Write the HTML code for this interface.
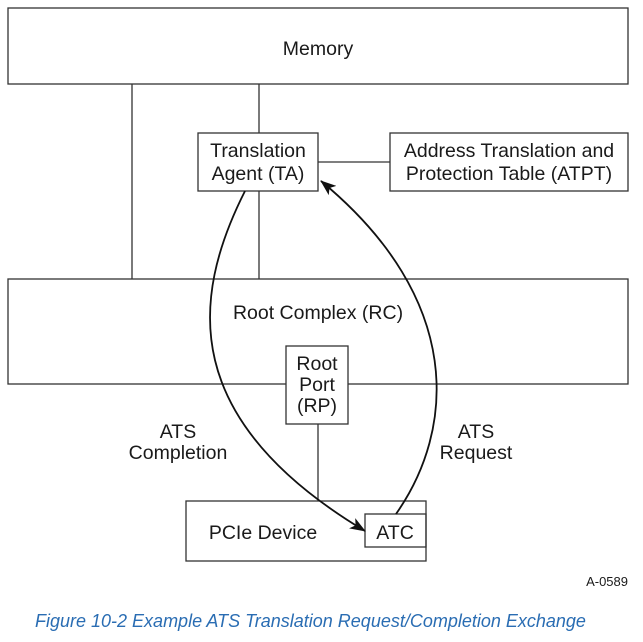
<!DOCTYPE html>
<html><head><style>
body{margin:0;background:#fff;width:643px;height:637px;overflow:hidden}
svg text{font-family:"Liberation Sans",sans-serif;font-size:19.5px;fill:#1a1a1a}
</style></head><body>
<svg width="643" height="637" viewBox="0 0 643 637">
<defs><marker id="a" markerWidth="16" markerHeight="12" refX="15" refY="6" orient="auto" markerUnits="userSpaceOnUse"><path d="M0,0 L16,6 L0,12 L4,6 Z" fill="#111"/></marker></defs>
<g stroke="#333" stroke-width="1.3" fill="none">
<rect x="8" y="8" width="620" height="76"/>
<line x1="132" y1="84" x2="132" y2="279"/>
<line x1="259" y1="84" x2="259" y2="133"/>
<line x1="259" y1="191" x2="259" y2="279"/>
<rect x="198" y="133" width="120" height="58" fill="#fff"/>
<rect x="390" y="133" width="238" height="58"/>
<line x1="318" y1="162" x2="390" y2="162"/>
<rect x="8" y="279" width="620" height="105"/>
<rect x="286" y="346" width="62" height="78" fill="#fff"/>
<line x1="318" y1="424" x2="318" y2="501"/>
<rect x="186" y="501" width="240" height="60"/>
<rect x="365" y="514" width="61" height="33"/>
</g>
<g stroke="#111" stroke-width="1.8" fill="none">
<path d="M245,191 C190,300 180,420 365,531" marker-end="url(#a)"/>
<path d="M396,514 C455,430 465,300 321,181" marker-end="url(#a)"/>
</g>
<text x="318" y="55" text-anchor="middle">Memory</text>
<text x="258" y="157" text-anchor="middle">Translation</text>
<text x="258" y="180" text-anchor="middle">Agent (TA)</text>
<text x="509" y="157" text-anchor="middle">Address Translation and</text>
<text x="509" y="180" text-anchor="middle">Protection Table (ATPT)</text>
<text x="318" y="319" text-anchor="middle">Root Complex (RC)</text>
<text x="317" y="370" text-anchor="middle">Root</text>
<text x="317" y="391" text-anchor="middle">Port</text>
<text x="317" y="412" text-anchor="middle">(RP)</text>
<text x="178" y="438" text-anchor="middle">ATS</text>
<text x="178" y="459" text-anchor="middle">Completion</text>
<text x="476" y="438" text-anchor="middle">ATS</text>
<text x="476" y="459" text-anchor="middle">Request</text>
<text x="263" y="539" text-anchor="middle">PCIe Device</text>
<text x="395" y="539" text-anchor="middle">ATC</text>
<text x="628" y="586" text-anchor="end" style="font-size:13px">A-0589</text>
<text x="35" y="627" style="font-size:18px;font-style:italic;fill:#2a6db3">Figure  10-2  Example ATS Translation Request/Completion Exchange</text>
</svg>
</body></html>
